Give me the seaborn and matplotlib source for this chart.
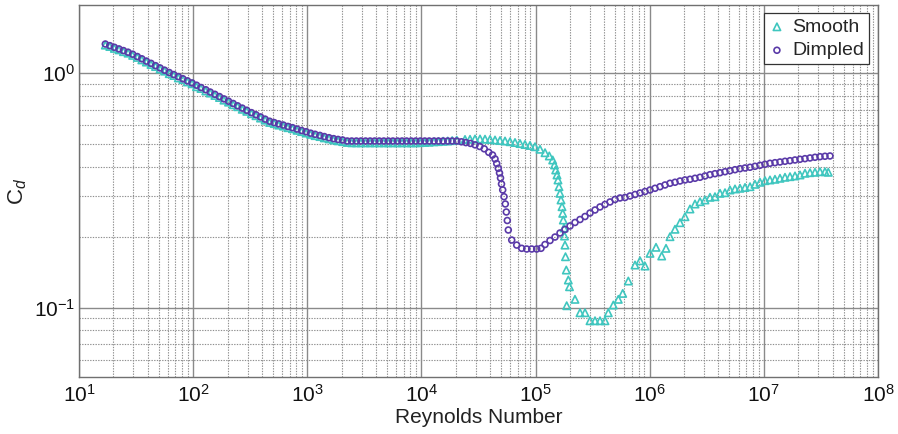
import matplotlib
matplotlib.use("Agg")
import matplotlib.pyplot as plt
from matplotlib.ticker import LogLocator, LogFormatterMathtext, NullFormatter
import numpy as np
import pandas as pd
import seaborn as sns

# Reynolds numbers of the subcritical range, shared by both balls
re_laminar = [
    17.0, 18.6, 20.4, 22.4, 24.5, 26.9, 29.5, 32.4, 35.5, 38.9,
    42.7, 46.8, 51.3, 56.2, 61.7, 67.6, 74.1, 81.3, 89.1, 97.7,
    107, 117, 129, 141, 155, 170, 186, 204, 224, 245,
    269, 295, 324, 355, 389, 427, 468, 513, 562, 617,
    676, 741, 813, 891, 977, 1070, 1170, 1290, 1410, 1550,
    1700, 1860, 2040, 2240, 2450, 2690, 2950, 3240, 3550, 3890,
    4270, 4680, 5130, 5620, 6170, 6760, 7410, 8130, 8910, 9770,
    10700, 11700, 12900, 14100, 15500, 17000, 18600, 20400,
]

cd_smooth_laminar = [
    1.318, 1.300, 1.276, 1.258, 1.236, 1.218, 1.192, 1.168, 1.140, 1.116,
    1.090, 1.068, 1.042, 1.021, 0.996, 0.978, 0.955, 0.940, 0.918, 0.902,
    0.876, 0.861, 0.840, 0.823, 0.804, 0.788, 0.768, 0.753, 0.734, 0.720,
    0.702, 0.688, 0.672, 0.659, 0.644, 0.631, 0.617, 0.610, 0.601, 0.595,
    0.586, 0.580, 0.571, 0.564, 0.556, 0.549, 0.542, 0.537, 0.530, 0.525,
    0.519, 0.515, 0.511, 0.507, 0.505, 0.505, 0.505, 0.505, 0.505, 0.505,
    0.505, 0.505, 0.505, 0.505, 0.505, 0.505, 0.505, 0.505, 0.505, 0.506,
    0.507, 0.508, 0.510, 0.511, 0.513, 0.514, 0.516, 0.518,
]

cd_dimpled_laminar = [
    1.332, 1.311, 1.290, 1.269, 1.249, 1.229, 1.205, 1.178, 1.152, 1.126,
    1.102, 1.077, 1.053, 1.030, 1.007, 0.987, 0.967, 0.947, 0.928, 0.909,
    0.889, 0.869, 0.850, 0.831, 0.813, 0.795, 0.777, 0.760, 0.743, 0.726,
    0.710, 0.695, 0.679, 0.665, 0.651, 0.637, 0.624, 0.616, 0.608, 0.601,
    0.593, 0.586, 0.578, 0.570, 0.563, 0.555, 0.549, 0.543, 0.537, 0.531,
    0.526, 0.522, 0.519, 0.514, 0.514, 0.514, 0.514, 0.514, 0.514, 0.514,
    0.514, 0.514, 0.514, 0.514, 0.514, 0.514, 0.514, 0.514, 0.514, 0.514,
    0.514, 0.514, 0.514, 0.514, 0.514, 0.514, 0.514, 0.514,
]

# Smooth ball: drag crisis and supercritical range
re_smooth_tail = [
    24090, 26650, 29470, 32610, 36060, 39890, 44130, 48810, 53990, 59700,
    66040, 73040, 80800, 89370, 98860, 109400, 121000, 131900, 141300, 146500,
    150100, 154100, 157200, 160400, 163700, 167100, 170500, 172900, 175000, 177500,
    179300, 181100, 182900, 185900, 193600, 198300, 187400, 221500, 245100, 271100,
    299900, 331700, 366900, 405800, 433800, 480100, 530900, 580100, 649500, 743700,
    822700, 909900, 1.006e6, 1.136e6, 1.274e6, 1.390e6, 1.506e6, 1.666e6, 1.843e6, 2.038e6,
    2.254e6, 2.494e6, 2.759e6, 3.051e6, 3.375e6, 3.733e6, 4.130e6, 4.568e6, 5.053e6, 5.589e6,
    6.182e6, 6.838e6, 7.564e6, 8.366e6, 9.254e6, 1.024e7, 1.132e7, 1.252e7, 1.385e7, 1.532e7,
    1.695e7, 1.875e7, 2.074e7, 2.294e7, 2.537e7, 2.806e7, 3.104e7, 3.434e7, 3.670e7,
]
cd_smooth_tail = [
    0.5218, 0.5228, 0.5243, 0.5243, 0.5233, 0.5218, 0.519, 0.5165, 0.514, 0.5105,
    0.5065, 0.5015, 0.4966, 0.492, 0.486, 0.474, 0.4583, 0.4438, 0.4266, 0.4063,
    0.3868, 0.3683, 0.3506, 0.3282, 0.3076, 0.2881, 0.2697, 0.2527, 0.2366, 0.2188,
    0.2022, 0.185, 0.165, 0.1448, 0.1313, 0.1229, 0.1020, 0.1086, 0.0952, 0.0952,
    0.0880, 0.0880, 0.0880, 0.0880, 0.0952, 0.1027, 0.1086, 0.1151, 0.1300, 0.1521,
    0.1586, 0.1506, 0.1706, 0.1810, 0.1662, 0.1792, 0.2009, 0.2161, 0.2305, 0.2444,
    0.2637, 0.2769, 0.2833, 0.2881, 0.2958, 0.2975, 0.3076, 0.3094, 0.3178, 0.3210,
    0.3231, 0.3257, 0.3282, 0.3360, 0.3428, 0.3482, 0.3506, 0.3530, 0.3565, 0.3600,
    0.3622, 0.3647, 0.3683, 0.3745, 0.3767, 0.3781, 0.3802, 0.3802, 0.3781,
]

# Dimpled ball: earlier drag crisis and supercritical range
re_dimpled_tail = [
    22400, 24500, 26900, 29500, 32400, 35500, 38900,
    41950, 44130, 45670, 47160, 48310, 49300, 50300, 51530, 52900, 54300,
    55410, 56540, 57690, 61800, 68350, 75600, 83640, 92520, 102300, 111600,
    121000, 133800, 148000, 163700, 181100, 200300, 221500, 245100, 271100, 299900,
    331700, 366900, 405800, 448900, 496600, 549300, 607600, 672100, 743400, 822300,
    909600, 1.006e6, 1.113e6, 1.231e6, 1.361e6, 1.506e6, 1.666e6, 1.842e6, 2.038e6, 2.254e6,
    2.494e6, 2.758e6, 3.051e6, 3.375e6, 3.733e6, 4.129e6, 4.567e6, 5.052e6, 5.588e6, 6.181e6,
    6.837e6, 7.563e6, 8.365e6, 9.253e6, 1.023e7, 1.132e7, 1.252e7, 1.385e7, 1.532e7, 1.694e7,
    1.874e7, 2.073e7, 2.293e7, 2.537e7, 2.806e7, 3.104e7, 3.433e7, 3.797e7,
]
cd_dimpled_tail = [
    0.510, 0.506, 0.502, 0.495, 0.487, 0.476, 0.460,
    0.448, 0.431, 0.412, 0.393, 0.3755, 0.3575, 0.337, 0.318, 0.2975, 0.277,
    0.256, 0.2355, 0.2145, 0.1944, 0.185, 0.1792, 0.178, 0.178, 0.178, 0.1792,
    0.186, 0.1935, 0.2002, 0.2083, 0.2157, 0.2232, 0.2310, 0.2378, 0.2449, 0.2535,
    0.2611, 0.2690, 0.2757, 0.2825, 0.2895, 0.2938, 0.2952, 0.2996, 0.3040, 0.3085,
    0.3131, 0.3178, 0.3231, 0.3282, 0.3338, 0.3394, 0.3428, 0.3471, 0.3506, 0.3530,
    0.3565, 0.3600, 0.3647, 0.3693, 0.3729, 0.3765, 0.3802, 0.3840, 0.3878, 0.3917,
    0.3944, 0.3972, 0.4010, 0.4050, 0.4090, 0.4130, 0.4155, 0.4183, 0.4212, 0.4237,
    0.4266, 0.4296, 0.4322, 0.4352, 0.4381, 0.4407, 0.4425, 0.4438,
]

series_colors = {"Smooth": "#3fc6bf", "Dimpled": "#5a3aa8"}

smooth = pd.DataFrame({"Re": re_laminar + re_smooth_tail,
                       "Cd": cd_smooth_laminar + cd_smooth_tail})
dimpled = pd.DataFrame({"Re": re_laminar + re_dimpled_tail,
                        "Cd": cd_dimpled_laminar + cd_dimpled_tail})

sns.set_style("white")
plt.rcParams["font.family"] = ["Liberation Sans", "DejaVu Sans"]
plt.rcParams["mathtext.fontset"] = "custom"
plt.rcParams["mathtext.rm"] = "Liberation Sans"
plt.rcParams["mathtext.it"] = "Liberation Sans:italic"
plt.rcParams["mathtext.bf"] = "Liberation Sans:bold"

fig, ax = plt.subplots(figsize=(8.98, 4.34), dpi=100)
fig.subplots_adjust(left=0.088, right=0.9777, bottom=0.1306, top=0.9892)

ax.set_xscale("log")
ax.set_yscale("log")

sns.scatterplot(data=smooth, x="Re", y="Cd", ax=ax, marker="^", s=28,
                color=series_colors["Smooth"], facecolor="none",
                edgecolor=series_colors["Smooth"], linewidth=1.2,
                label="Smooth", zorder=3)
sns.scatterplot(data=dimpled, x="Re", y="Cd", ax=ax, marker="o", s=18,
                color=series_colors["Dimpled"], facecolor="none",
                edgecolor=series_colors["Dimpled"], linewidth=1.2,
                label="Dimpled", zorder=4)

ax.set_xlim(1e1, 1e8)
ax.set_ylim(0.0505, 1.96)

ax.xaxis.set_major_locator(LogLocator(base=10, numticks=20))
ax.xaxis.set_minor_locator(LogLocator(base=10, subs=np.arange(2, 10), numticks=200))
ax.yaxis.set_major_locator(LogLocator(base=10, numticks=20))
ax.yaxis.set_minor_locator(LogLocator(base=10, subs=np.arange(2, 10), numticks=200))
ax.xaxis.set_major_formatter(LogFormatterMathtext())
ax.yaxis.set_major_formatter(LogFormatterMathtext())
ax.xaxis.set_minor_formatter(NullFormatter())
ax.yaxis.set_minor_formatter(NullFormatter())

ax.grid(which="major", color="#8a8a8a", linestyle="-", linewidth=1.0)
ax.grid(which="minor", color="#8f8f8f", linestyle=(0, (1.2, 1.2)), linewidth=0.8)
ax.set_axisbelow(True)

for sp in ax.spines.values():
    sp.set_color("#707070")
    sp.set_linewidth(1.0)

ax.tick_params(which="both", length=0)
ax.tick_params(axis="x", labelsize=15, pad=5, labelcolor="#111111")
ax.tick_params(axis="y", labelsize=15, pad=3, labelcolor="#111111")

ax.set_xlabel("Reynolds Number", fontsize=15, labelpad=1, color="#222222")
ax.set_ylabel(r"$\mathrm{C}_{d}$", fontsize=16, color="#222222")
ax.yaxis.set_label_coords(-0.062, 0.5)

leg = ax.legend(loc="upper right", fontsize=14, frameon=True, fancybox=False,
                edgecolor="#333333", framealpha=1.0, borderpad=0.25,
                handlelength=0.8, handletextpad=0.4, labelspacing=0.3,
                borderaxespad=0.45, markerscale=1.0)
leg.get_frame().set_linewidth(0.9)

fig.savefig("out.png", dpi=100)
